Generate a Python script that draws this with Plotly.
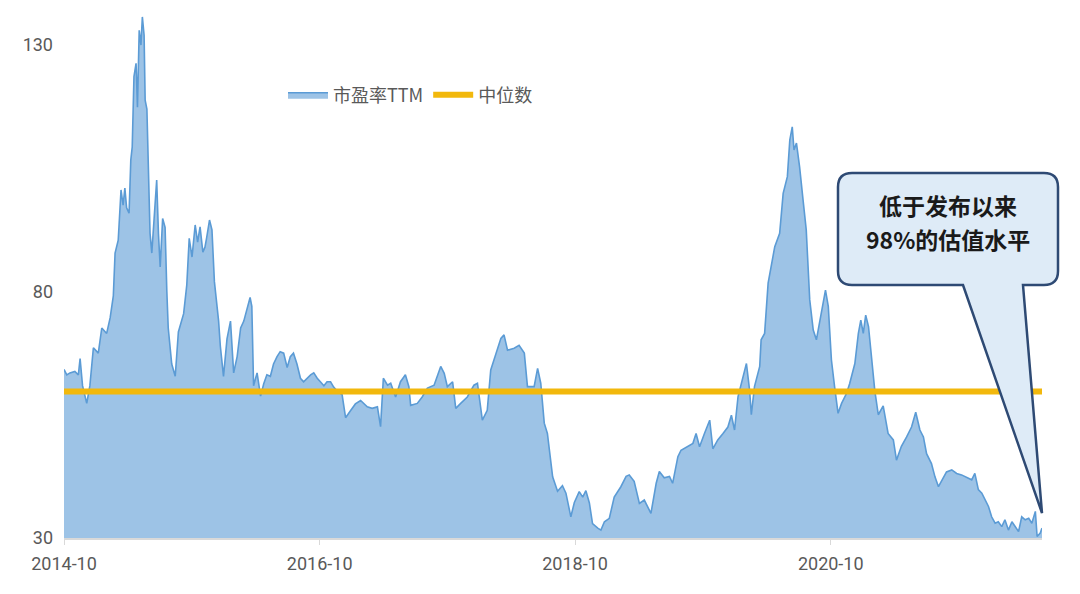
import plotly.graph_objects as go

# ---- data ----
dates = [
    "2014-10-01", "2014-10-09", "2014-10-18", "2014-11-01", "2014-11-11", "2014-11-16", "2014-11-23",
    "2014-12-05", "2014-12-14", "2014-12-24", "2015-01-07", "2015-01-17", "2015-01-31", "2015-02-10",
    "2015-02-19", "2015-02-24", "2015-03-05", "2015-03-13", "2015-03-19", "2015-03-24", "2015-03-29",
    "2015-04-05", "2015-04-10", "2015-04-14", "2015-04-19", "2015-04-25", "2015-04-29", "2015-05-04",
    "2015-05-09", "2015-05-13", "2015-05-18", "2015-05-21", "2015-05-26", "2015-05-31", "2015-06-04",
    "2015-06-09", "2015-06-16", "2015-06-23", "2015-06-28", "2015-07-03", "2015-07-10", "2015-07-17",
    "2015-07-22", "2015-07-26", "2015-08-05", "2015-08-15", "2015-08-24", "2015-09-08", "2015-09-17",
    "2015-09-24", "2015-10-02", "2015-10-11", "2015-10-18", "2015-10-25", "2015-11-02", "2015-11-08",
    "2015-11-13", "2015-11-21", "2015-11-28", "2015-12-05", "2015-12-17", "2015-12-22", "2015-12-31",
    "2016-01-10", "2016-01-20", "2016-01-29", "2016-02-08", "2016-02-18", "2016-02-27", "2016-03-07",
    "2016-03-16", "2016-03-21", "2016-03-26", "2016-04-05", "2016-04-15", "2016-04-24", "2016-05-03",
    "2016-05-13", "2016-05-22", "2016-06-01", "2016-06-10", "2016-06-20", "2016-06-30", "2016-07-09",
    "2016-07-18", "2016-07-28", "2016-08-07", "2016-08-16", "2016-08-26", "2016-09-05", "2016-09-14",
    "2016-09-24", "2016-10-03", "2016-10-13", "2016-10-22", "2016-11-01", "2016-11-10", "2016-11-20",
    "2016-12-04", "2016-12-14", "2016-12-28", "2017-01-11",
    "2017-01-26", "2017-02-14", "2017-02-28", "2017-03-15", "2017-03-24", "2017-04-01", "2017-04-13",
    "2017-04-22", "2017-05-06", "2017-05-20", "2017-06-03", "2017-06-13", "2017-06-18", "2017-07-07",
    "2017-07-21", "2017-08-05", "2017-08-24", "2017-09-12", "2017-09-22", "2017-10-01", "2017-10-16",
    "2017-10-25", "2017-11-08", "2017-11-27", "2017-12-16", "2017-12-26", "2018-01-09", "2018-01-23",
    "2018-02-02", "2018-02-16", "2018-03-03", "2018-03-12", "2018-03-22", "2018-04-10", "2018-04-24",
    "2018-05-09", "2018-05-18", "2018-06-06", "2018-06-16", "2018-06-25", "2018-07-05", "2018-07-14",
    "2018-07-24", "2018-07-29", "2018-08-12", "2018-08-26", "2018-09-05", "2018-09-14", "2018-09-19",
    "2018-09-29", "2018-10-13", "2018-10-23", "2018-11-01", "2018-11-11", "2018-11-20", "2018-12-05",
    "2018-12-14", "2018-12-24", "2019-01-07", "2019-01-21", "2019-02-09", "2019-02-24", "2019-03-05",
    "2019-03-19", "2019-04-03", "2019-04-17", "2019-05-06", "2019-05-21", "2019-05-30", "2019-06-13",
    "2019-06-28", "2019-07-07", "2019-07-22", "2019-07-31", "2019-08-19", "2019-09-03", "2019-09-12",
    "2019-09-22", "2019-10-06", "2019-10-21", "2019-10-30", "2019-11-13", "2019-11-28", "2019-12-12",
    "2019-12-22", "2019-12-31", "2020-01-10", "2020-01-24", "2020-02-03", "2020-02-12", "2020-02-17",
    "2020-02-26", "2020-03-12",
    "2020-03-16", "2020-03-26", "2020-04-05", "2020-04-14", "2020-04-24", "2020-05-08", "2020-05-18",
    "2020-05-30", "2020-06-06", "2020-06-13", "2020-06-18", "2020-06-25", "2020-07-04", "2020-07-14",
    "2020-07-23", "2020-08-02", "2020-08-12", "2020-08-21", "2020-08-31", "2020-09-09", "2020-09-16",
    "2020-09-24", "2020-10-03", "2020-10-12", "2020-10-22", "2020-11-01", "2020-11-15", "2020-11-24",
    "2020-12-09", "2020-12-19", "2020-12-26", "2021-01-02", "2021-01-09", "2021-01-17", "2021-01-26",
    "2021-02-04", "2021-02-14", "2021-02-28", "2021-03-14", "2021-03-29", "2021-04-07", "2021-04-21",
    "2021-05-06", "2021-05-20", "2021-06-01", "2021-06-13", "2021-06-23", "2021-07-02", "2021-07-16",
    "2021-07-26", "2021-08-05", "2021-08-14", "2021-08-28", "2021-09-12", "2021-09-26",
    "2021-10-10", "2021-10-25", "2021-11-08", "2021-11-17", "2021-11-27", "2021-12-07", "2021-12-16",
    "2021-12-26", "2022-01-04", "2022-01-14", "2022-01-23", "2022-02-02", "2022-02-11", "2022-02-21",
    "2022-03-03", "2022-03-12", "2022-03-22", "2022-03-31", "2022-04-10", "2022-04-20", "2022-04-29",
    "2022-05-09", "2022-05-14", "2022-05-23", "2022-05-28",
]
pe_ttm = [
    64.2, 63.1, 63.5, 63.8, 63.1, 66.4, 60.9,
    57.3, 60.9, 68.6, 67.5, 72.6, 71.5, 74.7,
    79.1, 87.8, 90.4, 100.6, 97.5, 101.0, 97.0,
    95.9, 106.7, 109.3, 123.6, 126.3, 117.4, 133.0,
    130.0, 135.7, 132.0, 118.8, 117.0, 104.0, 91.8,
    87.8, 95.0, 102.6, 91.8, 85.0, 94.8, 93.0,
    80.0, 72.6, 65.3, 62.8, 71.8, 75.5, 81.3,
    90.8, 87.0, 93.5, 90.0, 93.1, 88.0, 89.0,
    91.0, 94.5, 92.5, 82.0, 74.0, 68.9, 62.8,
    70.4, 74.0, 63.5, 66.8, 72.6, 74.0, 76.2,
    78.8, 77.0, 60.9, 63.5, 58.8, 61.3, 63.1,
    62.8, 65.3, 66.8, 67.8, 67.5, 64.6, 66.8,
    67.5, 65.3, 62.4, 61.7, 62.4, 63.1, 63.5,
    62.4, 61.7, 60.9, 61.7, 61.7, 60.6, 59.8,
    59.1, 54.4, 55.8, 57.2,
    57.9, 56.6, 56.3, 56.6, 52.6, 62.4, 61.0,
    61.4, 58.6, 61.7, 63.1, 60.7, 56.9, 57.3,
    58.6, 60.4, 61.0, 64.8, 63.4, 60.7, 61.7,
    56.3, 57.3, 58.6, 61.0, 61.4, 53.9, 55.9,
    64.1, 67.1, 70.5, 71.2, 68.1, 68.5, 69.1,
    67.5, 60.7, 60.7, 64.4, 61.4, 53.3, 51.2,
    45.5, 42.4, 39.5, 40.6, 39.1, 35.7, 34.3,
    37.2, 39.4, 38.3, 39.6, 37.1, 32.9, 32.0,
    31.6, 33.3, 34.0, 38.3, 40.4, 42.5, 42.8,
    41.5, 37.0, 37.7, 35.0, 41.1, 43.5, 42.2,
    42.5, 41.1, 46.5, 47.8, 48.5, 49.2, 51.2,
    48.5, 51.2, 53.9, 48.1, 49.9, 51.2, 52.5,
    54.9, 51.9, 58.7, 62.7, 65.4, 60.0, 55.0,
    60.7, 64.8,
    70.2, 71.5, 81.7, 85.1, 89.1, 91.8, 99.9,
    103.3, 110.7, 113.4, 108.7, 110.1, 105.3, 98.5,
    92.5, 78.3, 72.2, 70.2, 74.2, 78.3, 80.3,
    77.0, 66.1, 60.7, 55.3, 57.3, 59.3, 61.3,
    65.4, 71.5, 74.2, 71.5, 75.2, 72.9, 66.1,
    59.9, 55.0, 56.8, 51.2, 49.9, 45.8, 48.6,
    50.5, 52.5, 55.5, 51.9, 50.5, 47.1, 45.1,
    42.4, 40.4, 41.7, 43.4, 43.8, 43.1,
    42.8, 42.2, 41.8, 43.1, 39.8, 39.1, 37.7,
    36.4, 34.3, 33.0, 33.3, 32.3, 33.7, 31.6,
    33.3, 32.3, 31.3, 34.3, 33.7, 34.0, 33.0,
    35.4, 30.3, 31.0, 32.0,
]
median_value = 59.7
median_dates = [dates[0], dates[-1]]
median_values = [median_value, median_value]

x_tick_vals = ["2014-10-01", "2016-10-01", "2018-10-01", "2020-10-01"]
x_tick_text = ["2014-10", "2016-10", "2018-10", "2020-10"]
y_tick_vals = [30, 80, 130]

series_names = ["市盈率TTM", "中位数"]
callout_lines = ["低于发布以来", "98%的估值水平"]

# ---- figure ----
W, H = 1080, 594
ML, MR, MT, MB = 64, 38, 13, 56
PW, PH = W - ML - MR, H - MT - MB

fig = go.Figure()
fig.add_trace(go.Scatter(
    x=dates, y=pe_ttm, name=series_names[0], mode="lines",
    fill="tozeroy", fillcolor="#9DC3E6",
    line=dict(color="#5B9BD5", width=1.6),
))
fig.add_trace(go.Scatter(
    x=median_dates, y=median_values, name=series_names[1], mode="lines",
    line=dict(color="#F2B80C", width=6),
))


def px(x, y):
    """pixel position -> paper coordinates (for decorations only)"""
    return (x - ML) / PW, (H - MB - y) / PH


# callout bubble (paper coordinates)
L, R, T, B, r = 838, 1058, 173, 285, 14
tip = (1042, 513)
pts = [
    ("M", (L + r, T)), ("L", (R - r, T)), ("Q", (R, T), (R, T + r)), ("L", (R, B - r)),
    ("Q", (R, B), (R - r, B)), ("L", (1023, B)), ("L", tip), ("L", (963, B)),
    ("L", (L + r, B)), ("Q", (L, B), (L, B - r)), ("L", (L, T + r)), ("Q", (L, T), (L + r, T)),
]
path = ""
for item in pts:
    cmd = item[0]
    coords = []
    for p in item[1:]:
        a, b = px(*p)
        coords.append(f"{a:.5f},{b:.5f}")
    path += cmd + " ".join(coords) + " "
path += "Z"

fig.add_shape(type="path", path=path, xref="paper", yref="paper",
              fillcolor="#DEEBF7", line=dict(color="#2E4A74", width=2.5), layer="above")

cx, cy1 = px(948, 205)
_, cy2 = px(948, 239)
for txt, cy in zip(callout_lines, [cy1, cy2]):
    fig.add_annotation(x=cx, y=cy, xref="paper", yref="paper", text=f"<b>{txt}</b>",
                       showarrow=False, xanchor="center", yanchor="middle",
                       font=dict(family="Noto Sans CJK SC", size=23, color="#1a1a1a"))

lx, ly = px(283, 95)
fig.update_layout(
    width=W, height=H,
    margin=dict(l=ML, r=MR, t=MT, b=MB),
    paper_bgcolor="white", plot_bgcolor="white",
    showlegend=True,
    legend=dict(orientation="h", x=lx, y=ly, xanchor="left", yanchor="middle",
                font=dict(family="Noto Sans CJK SC", size=18, color="#595959"),
                bgcolor="rgba(0,0,0,0)", itemwidth=40, tracegroupgap=0),
    xaxis=dict(type="date", range=[dates[0], dates[-1]],
               tickvals=x_tick_vals, ticktext=x_tick_text,
               showgrid=False, zeroline=False,
               showline=True, linecolor="#D9D9D9", linewidth=2,
               ticks="outside", ticklen=5, tickcolor="#D9D9D9", tickwidth=1,
               ticklabelstandoff=3,
               tickfont=dict(family="Roboto", size=18, color="#595959")),
    yaxis=dict(range=[30, 136.5], tickvals=y_tick_vals,
               showgrid=False, zeroline=False, showline=False, ticks="",
               ticklabelstandoff=10,
               tickfont=dict(family="Roboto", size=18, color="#595959")),
)

fig.write_html("out.html", config={"displayModeBar": False},
               post_script="document.body.style.margin='0px';")
